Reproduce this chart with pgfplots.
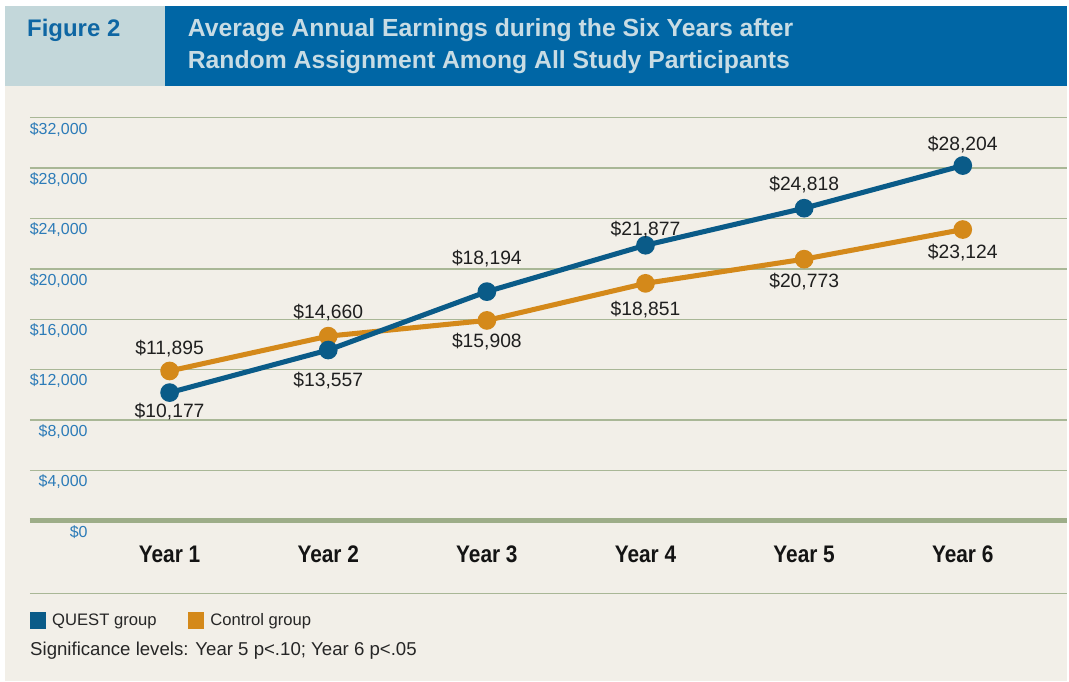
\documentclass[border=0pt]{standalone}
\usepackage{pgfplots}
\pgfplotsset{compat=1.18}
\usepackage{pgfplotstable}
\usepackage{fontspec}
\setmainfont{Liberation Sans}
\newfontfamily\condfont[FakeStretch=0.87]{Liberation Sans}

\definecolor{questblue}{HTML}{0A5B88}
\definecolor{ctrlorange}{HTML}{D4891A}
\definecolor{headblue}{HTML}{0066A5}
\definecolor{headlight}{HTML}{C3D7DA}
\definecolor{titletext}{HTML}{C8DCE4}
\definecolor{figblue}{HTML}{0E66A3}
\definecolor{bgbeige}{HTML}{F2EFE8}
\definecolor{gridgreen}{HTML}{A9B796}
\definecolor{axisgreen}{HTML}{9DAD88}
\definecolor{tickblue}{HTML}{2C7BB8}

% dy: vertical offset (pt) of the label centre from the point
\pgfplotstableread{
x y dy
1 10177 -14.25
2 13557 -23.25
3 18194 24.75
4 21877 12
5 24818 18
6 28204 15.75
}\quest
\pgfplotstableread{
x y dy
1 11895 16.5
2 14660 18
3 15908 -15.75
4 18851 -19.5
5 20773 -17.25
6 23124 -17.25
}\control

\pgfplotsset{
  lbl/.style={
    nodes near coords={\$\pgfmathprintnumber[fixed,precision=0,1000 sep={,}]{\pgfkeysvalueof{/data point/y}}},
    point meta=explicit symbolic,
    every node near coord/.append style={anchor=center, yshift=\pgfplotspointmeta pt, inner sep=0pt,
      font=\fontsize{14.5}{16}\selectfont, text=black!88},
  }
}

\begin{document}
\begin{tikzpicture}
\begin{scope}[x=0.75pt,y=-0.75pt]
\useasboundingbox (0,0) rectangle (1069,683);
\fill[white] (0,0) rectangle (1069,683);
\fill[bgbeige] (5,86) rectangle (1069,683);
\fill[headlight] (5,6) rectangle (165,86);
\fill[headblue] (165,6) rectangle (1069,86);
\node[anchor=base west, inner sep=0pt, font=\bfseries\fontsize{18}{20}\selectfont, text=figblue] at (27,37) {Figure 2};
\node[anchor=base west, inner sep=0pt, font=\bfseries\fontsize{18.6}{20}\selectfont, text=titletext] at (188,37) {Average Annual Earnings during the Six Years after};
\node[anchor=base west, inner sep=0pt, font=\bfseries\fontsize{18.6}{20}\selectfont, text=titletext] at (188,69) {Random Assignment Among All Study Participants};
\draw[gridgreen, line width=1.1pt] (30,595) -- (1069,595);
\node[anchor=base west, inner sep=0pt, font=\fontsize{14}{16}\selectfont, text=black!85] at (30,657) {Significance levels: Year 5 p<.10; Year 6 p<.05};
\end{scope}

\begin{axis}[
  at={(22.5pt,-391.5pt)}, anchor=south west,
  scale only axis, width=779.25pt, height=303pt,
  xmin=0.1195, xmax=6.654, ymin=0, ymax=32000,
  axis line style={draw=none}, tick style={draw=none}, major tick length=0pt,
  ymajorgrids, grid style={color=gridgreen, line width=1.1pt},
  ytick={0,4000,...,32000}, scaled y ticks=false,
  /pgf/number format/assume math mode=true,
  yticklabel={\$\pgfmathprintnumber[fixed,precision=0,1000 sep={,}]{\tick}},
  yticklabel style={anchor=north east, inner sep=0pt, xshift=43.5pt, yshift=-3.2pt,
    font=\fontsize{12}{14}\selectfont, text=tickblue},
  extra y ticks={0}, extra y tick labels={},
  extra y tick style={grid style={line width=3.75pt, color=axisgreen}},
  xtick={1,2,3,4,5,6},
  xticklabels={Year 1,Year 2,Year 3,Year 4,Year 5,Year 6},
  xticklabel style={anchor=north, inner sep=0pt, yshift=-18.5pt,
    font=\condfont\bfseries\fontsize{18}{20}\selectfont, text=black!92},
  clip=false,
  legend image code/.code={\fill[#1, draw=none] (0pt,-6.2pt) rectangle (12pt,6.2pt);},
  legend style={at={(0,-0.2475)}, anchor=west, draw=none, fill=none, inner sep=0pt,
    legend columns=2, font=\fontsize{12.5}{14}\selectfont, text=black!85,
    /tikz/every odd column/.append style={column sep=2.5pt},
    /tikz/every even column/.append style={column sep=22pt}},
  legend cell align=left,
]
\addlegendimage{questblue}
\addlegendimage{ctrlorange}
\addplot[forget plot, lbl, color=ctrlorange, line width=3.8pt, mark=*, mark size=5.1pt,
  mark options={fill=ctrlorange, draw=none}] table[x=x,y=y,meta=dy]{\control};
\addplot[forget plot, lbl, color=questblue, line width=3.8pt, mark=*, mark size=5.1pt,
  mark options={fill=questblue, draw=none}] table[x=x,y=y,meta=dy]{\quest};
\legend{QUEST group, Control group}
\end{axis}
\end{tikzpicture}
\end{document}
